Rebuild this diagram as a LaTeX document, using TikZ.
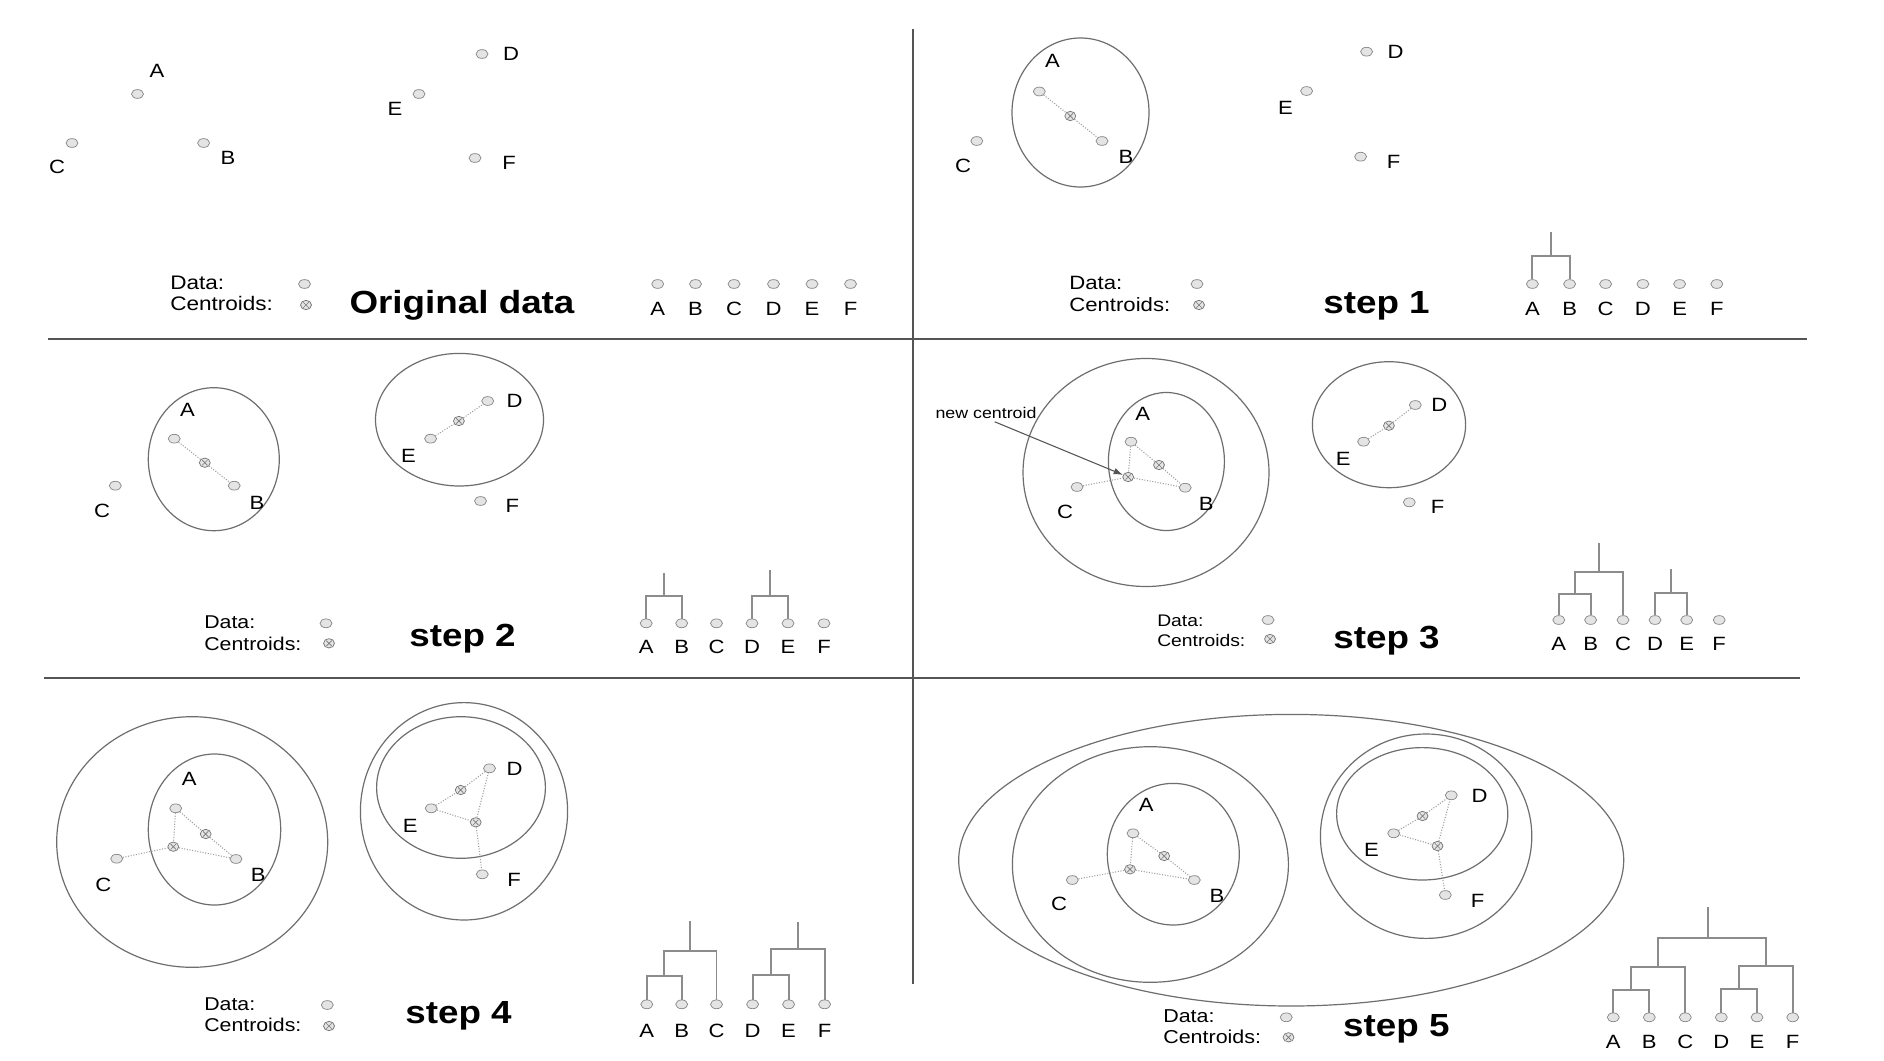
\documentclass[tikz,border=0pt]{standalone}
\usepackage{fontspec}
\setmainfont{Liberation Sans}[FakeStretch=1.15]
\usetikzlibrary{shapes.geometric,arrows.meta}
\definecolor{ptdraw}{HTML}{8A8A8A}
\definecolor{ptfill}{HTML}{E4E4E4}
\definecolor{cdraw}{HTML}{777777}
\definecolor{ringc}{HTML}{6E6E6E}
\definecolor{dotc}{HTML}{A0A0A0}
\definecolor{dendc}{HTML}{8C8C8C}
\definecolor{rulec}{HTML}{555555}
\definecolor{arrc}{HTML}{555555}
\tikzset{
  dat/.style={ellipse,draw=ptdraw,fill=ptfill,line width=0.55pt,minimum width=9pt,minimum height=6.6pt,inner sep=0pt},
  cen/.style={ellipse,draw=cdraw,fill=ptfill,line width=0.55pt,minimum width=8.2pt,minimum height=7pt,inner sep=0pt,
    path picture={\draw[cdraw,line width=0.5pt]
      ([shift={(-2pt,-2pt)}]path picture bounding box.center) -- ([shift={(2pt,2pt)}]path picture bounding box.center)
      ([shift={(-2pt,2pt)}]path picture bounding box.center) -- ([shift={(2pt,-2pt)}]path picture bounding box.center);}},
  lbl/.style={font=\fontsize{14.4}{16}\selectfont,inner sep=0pt,text height=10.3pt,text depth=0pt},
  leg/.style={font=\fontsize{#1}{18}\selectfont,inner sep=0pt,anchor=west,text height=10.2pt,text depth=0pt},
  ttl/.style={font=\fontsize{24}{28}\selectfont\bfseries,inner sep=0pt,text height=17.2pt,text depth=0pt},
  ncl/.style={font=\fontsize{11.6}{14}\selectfont,inner sep=0pt,text height=8.3pt,text depth=0pt},
  ring/.style={draw=ringc,line width=0.9pt},
  dotln/.style={draw=dotc,line width=0.8pt,dash pattern=on 0.8pt off 1.2pt},
  dend/.style={draw=dendc,line width=1.4pt},
  rulel/.style={draw=rulec,line width=1.5pt},
  arr/.style={draw=arrc,line width=0.8pt,-{Latex[length=7pt,width=5pt]}}
}
\begin{document}
\begin{tikzpicture}[x=0.75pt,y=-0.75pt]
\useasboundingbox (0,0) rectangle (1884,1060);
\fill[white] (0,0) rectangle (1884,1060);

% dividers
\draw[rulel] (913,29) -- (913,984);
\draw[rulel] (48,339) -- (1807,339);
\draw[rulel] (44,678) -- (1800,678);

% ================= Panel 1: Original data =================
\node[dat] (p1A) at (137.5,94) {};  \node[lbl] (p1Al) at (157,71) {A};
\node[dat] (p1B) at (203.6,143) {}; \node[lbl] (p1Bl) at (228,158) {B};
\node[dat] (p1C) at (72,143) {};    \node[lbl] (p1Cl) at (57,167) {C};
\node[dat] (p1D) at (482,54) {};    \node[lbl] (p1Dl) at (511,54) {D};
\node[dat] (p1E) at (419,94) {};    \node[lbl] (p1El) at (395,109) {E};
\node[dat] (p1F) at (475,158) {};   \node[lbl] (p1Fl) at (509,163) {F};
\node[leg=14.7] (g1a) at (170,283) {Data:};
\node[leg=14.7] (g1b) at (170,304) {Centroids:};
\node[dat] (g1d) at (304.5,284) {};
\node[cen] (g1c) at (306,305) {};
\node[ttl] (t1) at (462,302) {Original data};
\foreach \n/\x in {A/657.7,B/695.5,C/734,D/773.5,E/812,F/850.5}{
  \node[dat] (d1\n) at (\x,284) {};
  \node[lbl] (d1\n l) at (\x,309) {\n};
}

% ================= Panel 2: step 1 =================
\draw[ring] (1080.5,112.5) ellipse [x radius=68.5, y radius=74.5];
\node[dat] (p2A) at (1039.3,91.5) {}; \node[lbl] (p2Al) at (1052.5,60.7) {A};
\node[cen] (p2c) at (1070.3,116) {};
\node[dat] (p2B) at (1102,141) {};    \node[lbl] (p2Bl) at (1126,156.7) {B};
\node[dat] (p2C) at (976.8,141) {};   \node[lbl] (p2Cl) at (963,165.7) {C};
\node[dat] (p2D) at (1366.6,51.7) {}; \node[lbl] (p2Dl) at (1395.5,51.7) {D};
\node[dat] (p2E) at (1306.6,91) {};   \node[lbl] (p2El) at (1285.5,107.7) {E};
\node[dat] (p2F) at (1360.6,156.7) {};\node[lbl] (p2Fl) at (1393.6,161.7) {F};
\draw[dotln] (p2A) -- (p2c) -- (p2B);
\node[leg=14.45] (g2a) at (1069,283) {Data:};
\node[leg=14.45] (g2b) at (1069,305) {Centroids:};
\node[dat] (g2d) at (1197,284) {};
\node[cen] (g2c) at (1199,305) {};
\node[ttl] (t2) at (1376.5,302) {step 1};
\foreach \n/\x in {A/1532.4,B/1569.6,C/1605.6,D/1642.9,E/1679.6,F/1716.8}{
  \node[dat] (d2\n) at (\x,284) {};
  \node[lbl] (d2\n l) at (\x,309) {\n};
}
\coordinate (m2AB) at (1551,256);
\coordinate (t2AB) at (1551,231.7);
\draw[dend] (d2A) -- (d2A |- m2AB) -- (d2B |- m2AB) -- (d2B);
\draw[dend] (m2AB) -- (t2AB);

% ================= Panel 3: step 2 =================
\draw[ring] (213.8,459.2) ellipse [x radius=65.5, y radius=71.5];
\draw[ring] (459.5,419.7) ellipse [x radius=84, y radius=66.3];
\node[dat] (p3A) at (174.2,438.7) {}; \node[lbl] (p3Al) at (187.4,409.3) {A};
\node[cen] (p3c1) at (204.8,462.7) {};
\node[dat] (p3B) at (234.2,485.7) {}; \node[lbl] (p3Bl) at (257,502.3) {B};
\node[dat] (p3C) at (115.3,485.7) {}; \node[lbl] (p3Cl) at (102,510.7) {C};
\node[dat] (p3D) at (487.7,401) {};   \node[lbl] (p3Dl) at (514.7,401) {D};
\node[cen] (p3c2) at (458.9,421) {};
\node[dat] (p3E) at (430.6,438.7) {}; \node[lbl] (p3El) at (408.4,456) {E};
\node[dat] (p3F) at (480.5,501) {};   \node[lbl] (p3Fl) at (512.3,505.7) {F};
\draw[dotln] (p3A) -- (p3c1) -- (p3B);
\draw[dotln] (p3E) -- (p3c2) -- (p3D);
\node[leg=13.9] (g3a) at (204,621.7) {Data:};
\node[leg=13.9] (g3b) at (204,643.3) {Centroids:};
\node[dat] (g3d) at (326,623.3) {};
\node[cen] (g3c) at (329,643.3) {};
\node[ttl] (t3) at (462.5,635) {step 2};
\foreach \n/\x in {A/646.2,B/681.7,C/716.5,D/752,E/788,F/824}{
  \node[dat] (d3\n) at (\x,623.3) {};
  \node[lbl] (d3\n l) at (\x,646.7) {\n};
}
\coordinate (m3AB) at (664,596);
\coordinate (t3AB) at (664,573.3);
\coordinate (m3DE) at (770,596);
\coordinate (t3DE) at (770,570);
\draw[dend] (d3A) -- (d3A |- m3AB) -- (d3B |- m3AB) -- (d3B);
\draw[dend] (m3AB) -- (t3AB);
\draw[dend] (d3D) -- (d3D |- m3DE) -- (d3E |- m3DE) -- (d3E);
\draw[dend] (m3DE) -- (t3DE);

% ================= Panel 4: step 3 =================
\draw[ring] (1146,472.5) ellipse [x radius=123, y radius=114];
\draw[ring] (1166.4,461.5) ellipse [x radius=58, y radius=69];
\draw[ring] (1389,424.7) ellipse [x radius=76.6, y radius=63];
\node[dat] (p4A) at (1131,441.7) {};  \node[lbl] (p4Al) at (1142.6,413.3) {A};
\node[cen] (p4c1) at (1159,465) {};
\node[cen] (p4N) at (1128.2,477) {};
\node[dat] (p4B) at (1185.2,487.7) {}; \node[lbl] (p4Bl) at (1206.3,503.3) {B};
\node[dat] (p4C) at (1077,487) {};    \node[lbl] (p4Cl) at (1065.1,511.7) {C};
\node[dat] (p4D) at (1415.3,405) {};  \node[lbl] (p4Dl) at (1439.3,405) {D};
\node[cen] (p4c2) at (1388.9,425.7) {};
\node[dat] (p4E) at (1363.6,441.7) {}; \node[lbl] (p4El) at (1343.2,458.3) {E};
\node[dat] (p4F) at (1409.3,502.3) {}; \node[lbl] (p4Fl) at (1437.5,506.7) {F};
\draw[dotln] (p4A) -- (p4c1) -- (p4B);
\draw[dotln] (p4A) -- (p4N);
\draw[dotln] (p4C) -- (p4N) -- (p4B);
\draw[dotln] (p4E) -- (p4c2) -- (p4D);
\node[ncl] (nc) at (986,413.3) {new centroid};
\draw[arr] ([xshift=6.5pt,yshift=-2pt]nc.south) -- (p4N);
\node[leg=12.6] (g4a) at (1157,619.3) {Data:};
\node[leg=12.6] (g4b) at (1157,639.3) {Centroids:};
\node[dat] (g4d) at (1268,620) {};
\node[cen] (g4c) at (1270,639) {};
\node[ttl] (t4) at (1386.5,636.7) {step 3};
\foreach \n/\x in {A/1558.8,B/1590.6,C/1623,D/1655,E/1686.7,F/1719.2}{
  \node[dat] (d4\n) at (\x,620) {};
  \node[lbl] (d4\n l) at (\x,643.3) {\n};
}
\coordinate (m4AB) at (1574.7,594.3);
\coordinate (m4ABC) at (1599,571.7);
\coordinate (t4ABC) at (1599,543.3);
\coordinate (m4DE) at (1670.8,593.3);
\coordinate (t4DE) at (1670.8,569.3);
\draw[dend] (d4A) -- (d4A |- m4AB) -- (d4B |- m4AB) -- (d4B);
\draw[dend] (m4AB) -- (m4AB |- m4ABC) -- (d4C |- m4ABC) -- (d4C);
\draw[dend] (m4ABC) -- (t4ABC);
\draw[dend] (d4D) -- (d4D |- m4DE) -- (d4E |- m4DE) -- (d4E);
\draw[dend] (m4DE) -- (t4DE);

% ================= Panel 5: step 4 =================
\draw[ring] (192.2,842) ellipse [x radius=135.5, y radius=125.3];
\draw[ring] (214.5,829.5) ellipse [x radius=66.2, y radius=75.5];
\draw[ring] (464,811.3) ellipse [x radius=103.6, y radius=108.7];
\draw[ring] (461,787.5) ellipse [x radius=84.4, y radius=70.8];
\node[dat] (p5A) at (175.7,808.3) {}; \node[lbl] (p5Al) at (189.3,778.3) {A};
\node[cen] (p5c1) at (205.7,834) {};
\node[cen] (p5N) at (173.3,846.7) {};
\node[dat] (p5B) at (236,859) {};     \node[lbl] (p5Bl) at (258.3,875) {B};
\node[dat] (p5C) at (116.7,858.7) {}; \node[lbl] (p5Cl) at (103.3,885) {C};
\node[dat] (p5D) at (489.5,768.3) {}; \node[lbl] (p5Dl) at (514.7,768.3) {D};
\node[cen] (p5c2) at (460.7,790) {};
\node[dat] (p5E) at (431.2,808.3) {}; \node[lbl] (p5El) at (410.2,826) {E};
\node[cen] (p5c3) at (475.7,822.3) {};
\node[dat] (p5F) at (482.3,874.3) {}; \node[lbl] (p5Fl) at (514.1,880) {F};
\draw[dotln] (p5A) -- (p5c1) -- (p5B);
\draw[dotln] (p5A) -- (p5N);
\draw[dotln] (p5C) -- (p5N) -- (p5B);
\draw[dotln] (p5E) -- (p5c2) -- (p5D);
\draw[dotln] (p5E) -- (p5c3) -- (p5D);
\draw[dotln] (p5c3) -- (p5F);
\node[leg=13.9] (g5a) at (204,1003.3) {Data:};
\node[leg=13.9] (g5b) at (204,1025) {Centroids:};
\node[dat] (g5d) at (327.3,1005) {};
\node[cen] (g5c) at (329,1026) {};
\node[ttl] (t5) at (458.5,1011.7) {step 4};
\foreach \n/\x in {A/646.8,B/681.7,C/716.5,D/752.6,E/788.6,F/824.6}{
  \node[dat] (d5\n) at (\x,1004.3) {};
  \node[lbl] (d5\n l) at (\x,1030.7) {\n};
}
\coordinate (m5AB) at (664.3,975.7);
\coordinate (m5ABC) at (690.4,951);
\coordinate (t5ABC) at (690.4,920.7);
\coordinate (m5DE) at (770.6,975);
\coordinate (m5DEF) at (797.6,949);
\coordinate (t5DEF) at (797.6,921.7);
\draw[dend] (d5A) -- (d5A |- m5AB) -- (d5B |- m5AB) -- (d5B);
\draw[dend] (m5AB) -- (m5AB |- m5ABC) -- (d5C |- m5ABC) -- (d5C);
\draw[dend] (m5ABC) -- (t5ABC);
\draw[dend] (d5D) -- (d5D |- m5DE) -- (d5E |- m5DE) -- (d5E);
\draw[dend] (m5DE) -- (m5DE |- m5DEF) -- (d5F |- m5DEF) -- (d5F);
\draw[dend] (m5DEF) -- (t5DEF);

% ================= Panel 6: step 5 =================
\draw[ring] (1291.2,860.2) ellipse [x radius=332.5, y radius=145.8];
\draw[ring] (1150.4,864.5) ellipse [x radius=138, y radius=117.8];
\draw[ring] (1173.3,854.2) ellipse [x radius=66, y radius=70.8];
\draw[ring] (1426.1,836.2) ellipse [x radius=105.7, y radius=102.2];
\draw[ring] (1422.2,813.8) ellipse [x radius=85.6, y radius=66.2];
\node[dat] (p6A) at (1133,833.3) {};  \node[lbl] (p6Al) at (1146.2,805) {A};
\node[cen] (p6c1) at (1164.2,856) {};
\node[cen] (p6N) at (1130,869.3) {};
\node[dat] (p6B) at (1194.3,880) {};  \node[lbl] (p6Bl) at (1217,895.7) {B};
\node[dat] (p6C) at (1072.3,880) {};  \node[lbl] (p6Cl) at (1059.1,903.3) {C};
\node[dat] (p6D) at (1451.3,795.3) {}; \node[lbl] (p6Dl) at (1479.5,795.3) {D};
\node[cen] (p6c2) at (1422.5,816) {};
\node[dat] (p6E) at (1393.7,833.3) {}; \node[lbl] (p6El) at (1371.4,850) {E};
\node[cen] (p6c3) at (1437.5,846) {};
\node[dat] (p6F) at (1445.3,895) {};  \node[lbl] (p6Fl) at (1477.7,900.7) {F};
\draw[dotln] (p6A) -- (p6c1) -- (p6B);
\draw[dotln] (p6A) -- (p6N);
\draw[dotln] (p6C) -- (p6N) -- (p6B);
\draw[dotln] (p6E) -- (p6c2) -- (p6D);
\draw[dotln] (p6E) -- (p6c3) -- (p6D);
\draw[dotln] (p6c3) -- (p6F);
\node[leg=14.0] (g6a) at (1163,1016) {Data:};
\node[leg=14.0] (g6b) at (1163,1036.7) {Centroids:};
\node[dat] (g6d) at (1286.2,1017.3) {};
\node[cen] (g6c) at (1288.5,1037.3) {};
\node[ttl] (t6) at (1396.4,1025) {step 5};
\foreach \n/\x in {A/1613.3,B/1649.3,C/1685.3,D/1721.3,E/1757,F/1792.7}{
  \node[dat] (d6\n) at (\x,1017.3) {};
  \node[lbl] (d6\n l) at (\x,1041.7) {\n};
}
\coordinate (m6AB) at (1631.3,990);
\coordinate (m6ABC) at (1658.3,967.3);
\coordinate (m6DE) at (1739.2,989);
\coordinate (m6DEF) at (1766,965.7);
\coordinate (m6top) at (1708,938.3);
\coordinate (t6top) at (1708,906.7);
\draw[dend] (d6A) -- (d6A |- m6AB) -- (d6B |- m6AB) -- (d6B);
\draw[dend] (m6AB) -- (m6AB |- m6ABC) -- (d6C |- m6ABC) -- (d6C);
\draw[dend] (d6D) -- (d6D |- m6DE) -- (d6E |- m6DE) -- (d6E);
\draw[dend] (m6DE) -- (m6DE |- m6DEF) -- (d6F |- m6DEF) -- (d6F);
\draw[dend] (m6ABC) -- (m6ABC |- m6top) -- (m6DEF |- m6top) -- (m6DEF);
\draw[dend] (m6top) -- (t6top);
\end{tikzpicture}
\end{document}
